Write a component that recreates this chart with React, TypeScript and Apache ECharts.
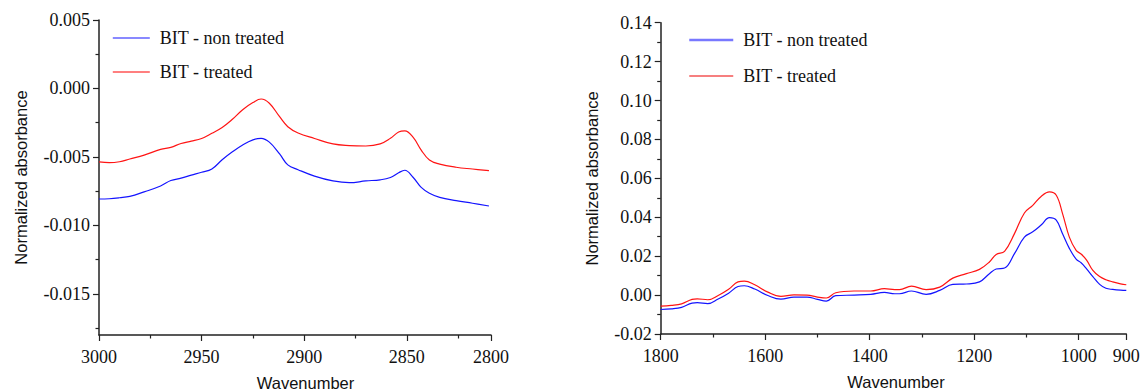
import React, { useEffect, useRef } from "react";
import * as echarts from "echarts";

// ---- Left panel (C-H stretching region) ----
const leftWavenumber = [3000, 2995, 2990, 2985, 2978, 2970, 2965, 2960, 2955, 2950, 2945, 2940, 2935, 2930, 2925, 2921, 2917, 2912, 2908, 2903, 2895, 2886, 2878, 2870, 2863, 2858, 2854, 2851, 2847, 2843, 2839, 2834, 2826, 2818, 2810];
const leftNonTreated = [-0.00807, -0.00805, -0.00798, -0.00788, -0.00755, -0.00712, -0.00672, -0.00655, -0.00633, -0.00612, -0.00588, -0.0052, -0.00462, -0.00412, -0.00375, -0.00364, -0.00392, -0.00478, -0.00558, -0.00593, -0.0064, -0.00675, -0.00688, -0.00675, -0.00667, -0.0065, -0.00615, -0.00597, -0.00648, -0.00722, -0.00765, -0.00795, -0.00819, -0.00838, -0.00858];
const leftTreated = [-0.00536, -0.00542, -0.00535, -0.00515, -0.00487, -0.00445, -0.0043, -0.00402, -0.00385, -0.00365, -0.00327, -0.00285, -0.00225, -0.00155, -0.00103, -0.00077, -0.00108, -0.00206, -0.00279, -0.00325, -0.00365, -0.00405, -0.00417, -0.0042, -0.00405, -0.00364, -0.00318, -0.0031, -0.00355, -0.0045, -0.00522, -0.00552, -0.00575, -0.00588, -0.006];
const leftXTickValues = [3000, 2950, 2900, 2850, 2809];
const leftXTickLabels = ["3000", "2950", "2900", "2850", "2800"];
const leftXMinorTicks = [2975, 2925, 2875, 2825];
const leftYTickValues = [0.005, 0, -0.005, -0.01, -0.015];
const leftYTickLabels = ["0.005", "0.000", "-0.005", "-0.010", "-0.015"];
const leftYMinorTicks = [0.0025, -0.0025, -0.0075, -0.0125, -0.0175];
const leftXRange = [2809, 3000];
const leftYRange = [-0.018, 0.005];

// ---- Right panel (fingerprint region) ----
const rightWavenumber = [1800, 1780, 1760, 1740, 1730, 1710, 1690, 1670, 1652, 1640, 1620, 1595, 1570, 1545, 1520, 1500, 1483, 1465, 1430, 1398, 1372, 1352, 1343, 1320, 1292, 1266, 1241, 1215, 1190, 1171, 1158, 1142, 1123, 1104, 1088, 1072, 1056, 1043, 1031, 1018, 1005, 995, 985, 973, 960, 948, 935, 920, 909];
const rightNonTreated = [-0.0074, -0.0071, -0.0063, -0.0041, -0.0039, -0.0044, -0.002, 0.001, 0.0044, 0.0048, 0.0031, -0.0002, -0.0021, -0.001, -0.001, -0.0022, -0.0031, -0.0003, 0.0, 0.0004, 0.0014, 0.0007, 0.0007, 0.0021, 0.0004, 0.0024, 0.0055, 0.0057, 0.0068, 0.011, 0.0134, 0.0139, 0.0213, 0.0298, 0.0325, 0.036, 0.0398, 0.0385, 0.0315, 0.024, 0.0185, 0.0165, 0.0135, 0.0095, 0.0055, 0.0035, 0.0029, 0.0025, 0.0024];
const rightTreated = [-0.0057, -0.0053, -0.0045, -0.0022, -0.0019, -0.0024, -0.0002, 0.003, 0.0068, 0.0072, 0.0053, 0.0015, -0.0007, 0.0001, 0.0, -0.001, -0.0015, 0.0012, 0.0021, 0.0021, 0.0033, 0.0028, 0.0028, 0.0046, 0.0028, 0.0041, 0.0087, 0.011, 0.0132, 0.017, 0.0209, 0.0225, 0.0316, 0.0422, 0.0461, 0.0507, 0.053, 0.0513, 0.0419, 0.0298, 0.023, 0.021, 0.018, 0.0127, 0.0095, 0.0079, 0.0068, 0.0058, 0.0053];
const rightXTickValues = [1800, 1600, 1400, 1200, 1000, 909];
const rightXTickLabels = ["1800", "1600", "1400", "1200", "1000", "900"];
const rightXMinorTicks = [1700, 1500, 1300, 1100];
const rightYTickValues = [-0.02, 0, 0.02, 0.04, 0.06, 0.08, 0.1, 0.12, 0.14];
const rightYTickLabels = ["-0.02", "0.00", "0.02", "0.04", "0.06", "0.08", "0.10", "0.12", "0.14"];
const rightYMinorTicks = [-0.01, 0.01, 0.03, 0.05, 0.07, 0.09, 0.11, 0.13];
const rightXRange = [909, 1800];
const rightYRange = [-0.02, 0.14];

const seriesNames = ["BIT - non treated", "BIT - treated"];
const seriesColors = ["#1414ff", "#ff1414"];

const SERIF = "Liberation Serif";
const SANS = "Liberation Sans";

function lookup(values: number[], labels: string[]) {
  return (v: number) => {
    for (let i = 0; i < values.length; i++) {
      if (Math.abs(values[i] - v) < 1e-9) return labels[i];
    }
    return "";
  };
}

function mainAxis(
  kind: "x" | "y",
  gridIndex: number,
  range: number[],
  tickValues: number[],
  tickLabels: string[],
  name: string,
  nameGap: number,
  namePadding: number[]
) {
  return {
    type: "value",
    gridIndex,
    min: range[0],
    max: range[1],
    inverse: kind === "x",
    position: kind === "x" ? "bottom" : "left",
    name,
    nameLocation: "middle",
    nameGap,
    nameTextStyle: { fontFamily: SANS, fontSize: 16.5, color: "#111", padding: namePadding },
    axisLine: { show: true, onZero: false, lineStyle: { color: "#222", width: 1.5 } },
    axisTick: { show: true, inside: false, length: 6, customValues: tickValues, lineStyle: { color: "#222", width: 1.2 } },
    axisLabel: {
      show: true,
      customValues: tickValues,
      margin: kind === "x" ? 13 : 9,
      fontFamily: SERIF,
      fontSize: 18,
      color: "#111",
      formatter: lookup(tickValues, tickLabels),
    },
    splitLine: { show: false },
    minorTick: { show: false },
  };
}

function minorAxis(kind: "x" | "y", gridIndex: number, range: number[], minorValues: number[]) {
  return {
    type: "value",
    gridIndex,
    min: range[0],
    max: range[1],
    inverse: kind === "x",
    position: kind === "x" ? "bottom" : "left",
    axisLine: { show: false, onZero: false },
    axisTick: { show: true, inside: false, length: 3.5, customValues: minorValues, lineStyle: { color: "#222", width: 1.2 } },
    axisLabel: { show: false },
    splitLine: { show: false },
  };
}

function lineSeries(name: string, color: string, xs: number[], ys: number[], axisIndex: number) {
  return {
    type: "line",
    name,
    xAxisIndex: axisIndex,
    yAxisIndex: axisIndex,
    data: xs.map((x, i) => [x, ys[i]]),
    smooth: 0.4,
    symbol: "none",
    showSymbol: false,
    lineStyle: { color, width: 1.2 },
    itemStyle: { color },
  };
}

export default function App() {
  const ref = useRef<HTMLDivElement>(null);

  useEffect(() => {
    document.body.style.margin = "0";
    if (!ref.current) return;
    const chart = echarts.init(ref.current, undefined, { renderer: "svg" });
    const legendText = { fontFamily: SERIF, fontSize: 18, color: "#111", padding: [0, 0, 0, 5] };
    chart.setOption({
      animation: false,
      backgroundColor: "#ffffff",
      textStyle: { fontFamily: SERIF },
      grid: [
        { left: 99, top: 20, width: 392, height: 315, containLabel: false, outerBoundsMode: "none" },
        { left: 660.7, top: 22.7, width: 465.6, height: 311.3, containLabel: false, outerBoundsMode: "none" },
      ],
      legend: [
        {
          orient: "vertical",
          left: 107,
          top: 24,
          itemWidth: 37,
          itemHeight: 18,
          itemGap: 16,
          textStyle: legendText,
          itemStyle: { opacity: 0 },
          data: [
            { name: seriesNames[0], itemStyle: { opacity: 0 }, lineStyle: { color: seriesColors[0], width: 1.2 } },
            { name: seriesNames[1], itemStyle: { opacity: 0 }, lineStyle: { color: "#ff5555", width: 1.6 } },
          ],
        },
        {
          orient: "vertical",
          left: 683,
          top: 26,
          itemWidth: 44,
          itemHeight: 18,
          itemGap: 18,
          textStyle: legendText,
          itemStyle: { opacity: 0 },
          data: [
            { name: seriesNames[0], itemStyle: { opacity: 0 }, lineStyle: { color: "#7878ff", width: 2.5 } },
            { name: seriesNames[1], itemStyle: { opacity: 0 }, lineStyle: { color: "#ee0000", width: 1.2 } },
          ],
        },
      ],
      xAxis: [
        mainAxis("x", 0, leftXRange, leftXTickValues, leftXTickLabels, "Wavenumber", 39, [0, 0, 0, 21]),
        mainAxis("x", 1, rightXRange, rightXTickValues, rightXTickLabels, "Wavenumber", 39, [0, 0, 0, 5]),
        minorAxis("x", 0, leftXRange, leftXMinorTicks),
        minorAxis("x", 1, rightXRange, rightXMinorTicks),
      ],
      yAxis: [
        mainAxis("y", 0, leftYRange, leftYTickValues, leftYTickLabels, "Normalized absorbance", 70, [0, 0, 0, 0]),
        mainAxis("y", 1, rightYRange, rightYTickValues, rightYTickLabels, "Normalized absorbance", 60, [0, 0, 0, 0]),
        minorAxis("y", 0, leftYRange, leftYMinorTicks),
        minorAxis("y", 1, rightYRange, rightYMinorTicks),
      ],
      series: [
        lineSeries(seriesNames[0], seriesColors[0], leftWavenumber, leftNonTreated, 0),
        lineSeries(seriesNames[1], seriesColors[1], leftWavenumber, leftTreated, 0),
        lineSeries(seriesNames[0], seriesColors[0], rightWavenumber, rightNonTreated, 1),
        lineSeries(seriesNames[1], seriesColors[1], rightWavenumber, rightTreated, 1),
      ],
    });
    return () => chart.dispose();
  }, []);

  return <div ref={ref} style={{ width: 1141, height: 390 }} />;
}
